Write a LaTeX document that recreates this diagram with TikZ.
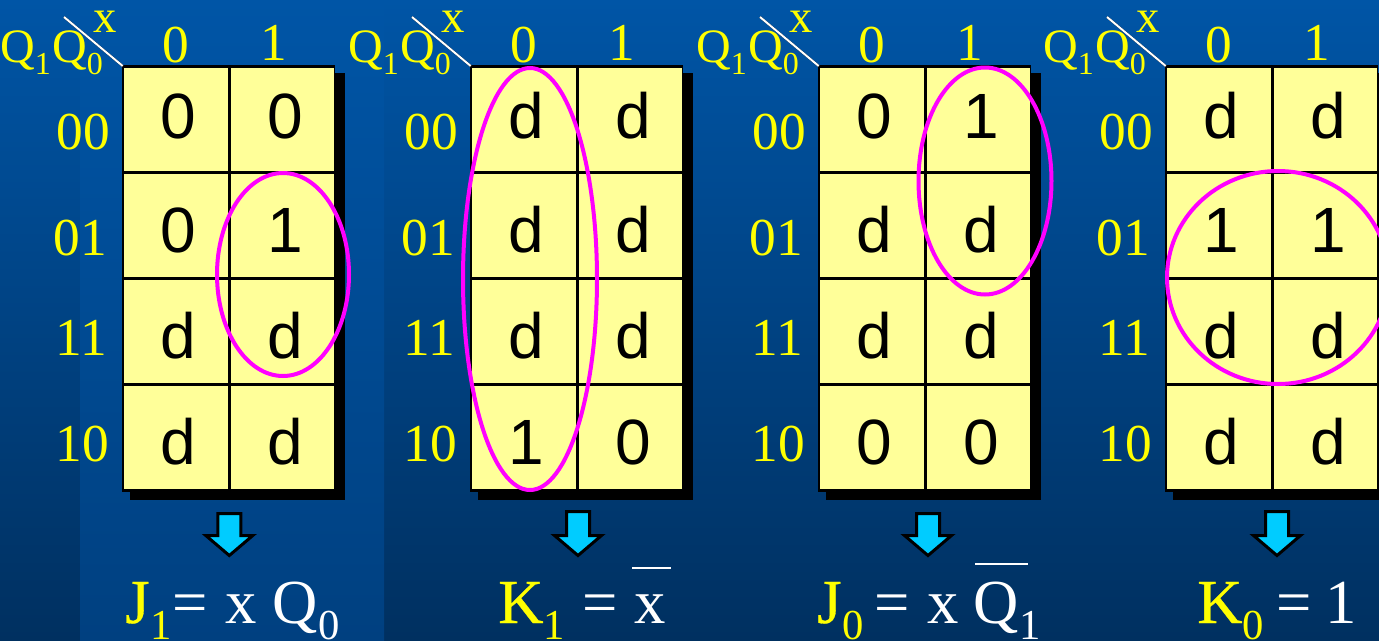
\documentclass[tikz,border=0pt]{standalone}
\usepackage{fontspec}
\setmainfont{Liberation Serif}
\newfontfamily\cellfont{Liberation Sans}
\newfontfamily\heavyfont[FakeBold=0.5]{Liberation Serif}
\definecolor{ygl}{HTML}{FFFF00}
\definecolor{cellbg}{HTML}{FFFF99}
\definecolor{mag}{HTML}{FF00FF}
\definecolor{arrowc}{HTML}{00CCFF}
\definecolor{bgt}{HTML}{0055A6}
\definecolor{bgb}{HTML}{003060}
\definecolor{panelb}{HTML}{004080}
\tikzset{
  lab/.style={text=ygl,font=\fontsize{40}{40}\selectfont,inner sep=0pt,anchor=base},
  xlab/.style={text=ygl,font=\fontsize{35}{35}\selectfont,inner sep=0pt,anchor=base},
  qlab/.style={text=ygl,font=\fontsize{36}{36}\selectfont,inner sep=0pt,anchor=base west},
  cellv/.style={text=black,font=\cellfont\fontsize{48}{48}\selectfont,inner sep=0pt,anchor=base},
  eqy/.style={text=ygl,font=\heavyfont\fontsize{47}{47}\selectfont,inner sep=0pt,anchor=base west},
  eqw/.style={text=white,font=\fontsize{47}{47}\selectfont,inner sep=0pt,anchor=base west},
  subw/.style={text=white,font=\fontsize{32}{32}\selectfont,inner sep=0pt,anchor=base west},
  suby/.style={text=ygl,font=\fontsize{32}{32}\selectfont,inner sep=0pt,anchor=base west},
  ring/.style={draw=mag,line width=3pt},
  gridline/.style={draw=black,line width=2pt},
  barline/.style={draw=white,line width=1.9pt},
  blockarrow/.style={draw=black,fill=arrowc,line width=2.25pt,miter limit=10},
}
\newcommand{\subq}[1]{\raisebox{-9pt}{\fontsize{24}{24}\selectfont #1}}
\newcommand{\kmap}[2]{%
\begin{scope}[shift={(#1,0)}]
 \fill[black] (5.5,72.5) rectangle (220.5,499.5);
 \fill[black] (-1.7,65) rectangle (211,491.7);
 \fill[cellbg] (0.3,67.6) rectangle (210,489);
 \draw[gridline] (105.3,66) -- (105.3,490);
 \draw[gridline] (0,172.7) -- (211,172.7);
 \draw[gridline] (0,278.7) -- (211,278.7);
 \draw[gridline] (0,384.7) -- (211,384.7);
 \coordinate (corner#2) at (-1.3,66);
 \coordinate (tip#2) at (-60,17);
 \draw[black,line width=1.6pt,shift={(0.4,0.9)}] (tip#2) -- (corner#2);
 \draw[white,line width=1.5pt] (tip#2) -- (corner#2);
 \node[xlab] (x#2) at (-19,32) {x};
 \node[lab] (c0#2) at (52,62) {0};
 \node[lab] (c1#2) at (150,60) {1};
 \node[qlab] (q#2) at (-124,62) {Q\subq{1}\kern1pt Q\subq{0}};
 \node[lab] (r0#2) at (-41,149) {00};
 \node[lab] (r1#2) at (-44,255) {01};
 \node[lab] (r2#2) at (-43,355) {11};
 \node[lab] (r3#2) at (-41.5,461) {10};
\end{scope}}
\newcommand{\cells}[9]{%
\begin{scope}[shift={(#1,0)}]
 \node[cellv] at (54,138) {#2};
 \node[cellv] at (161,138) {#3};
 \node[cellv] at (54,252) {#4};
 \node[cellv] at (161,252) {#5};
 \node[cellv] at (54,358) {#6};
 \node[cellv] at (161,358) {#7};
 \node[cellv] at (54,464) {#8};
 \node[cellv] at (161,464) {#9};
\end{scope}}
\newcommand{\downblock}[2]{%
 \draw[blockarrow] (#1-11.5,#2) -- (#1+11.5,#2) -- (#1+11.5,535.5) -- (#1+23.5,535.5) -- (#1,555.5) -- (#1-23.5,535.5) -- (#1-11.5,535.5) -- cycle;}
\begin{document}
\begin{tikzpicture}[x=0.75pt,y=-0.75pt]
\useasboundingbox (0,0) rectangle (1379,640);
\shade[top color=bgt,bottom color=bgb] (0,0) rectangle (1379,640);
\shade[top color=bgt,bottom color=panelb] (80,0) rectangle (384,640);
\kmap{124}{A}\cells{124}{0}{0}{0}{1}{d}{d}{d}{d}
\kmap{472}{B}\cells{472}{d}{d}{d}{d}{d}{d}{1}{0}
\kmap{820}{C}\cells{820}{0}{1}{d}{d}{d}{d}{0}{0}
\kmap{1167}{D}\cells{1167}{d}{d}{1}{1}{d}{d}{d}{d}
\draw[ring] (283,274.5) ellipse [x radius=66,y radius=101.5];
\draw[ring] (530,279) ellipse [x radius=67,y radius=211];
\draw[ring] (985,181) ellipse [x radius=66.5,y radius=113.5];
\draw[ring] (1278,277.5) ellipse [x radius=111,y radius=106.5];
\downblock{229.3}{513.5}
\downblock{578}{511.5}
\downblock{928}{513.5}
\downblock{1277}{511.5}
\node[eqy] (j1) at (125,623) {J};
\node[suby] at (150,639) {1};
\node[eqw] at (172,623) {=};
\node[eqw] at (225,623) {x};
\node[eqw] at (272,623) {Q};
\node[subw] at (318,639) {0};
\node[eqy] (k1) at (498,623) {K};
\node[suby] at (543,639) {1};
\node[eqw] at (582,623) {=};
\node[eqw] (xb) at (634,623) {x};
\coordinate (b1l) at (632,568);
\coordinate (b1r) at (671,568);
\draw[barline] (b1l) -- (b1r);
\node[eqy] (j0) at (817,623) {J};
\node[suby] at (842,639) {0};
\node[eqw] at (874,623) {=};
\node[eqw] at (927,623) {x};
\node[eqw] at (973,623) {Q};
\node[subw] at (1019,639) {1};
\coordinate (b2l) at (975,564);
\coordinate (b2r) at (1028,564);
\draw[barline] (b2l) -- (b2r);
\node[eqy] (k0) at (1197,623) {K};
\node[suby] at (1242,639) {0};
\node[eqw] at (1276,623) {=};
\node[eqw] at (1325,623) {1};
\end{tikzpicture}
\end{document}
